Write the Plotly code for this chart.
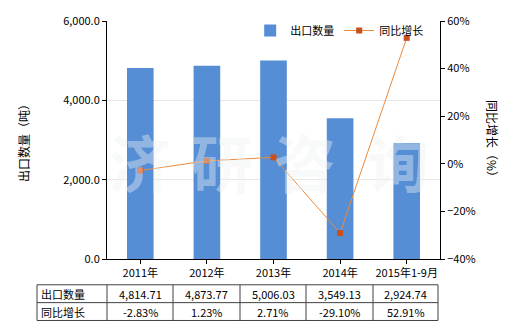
import plotly.graph_objects as go

categories = ["2011年", "2012年", "2013年", "2014年", "2015年1-9月"]
export_qty = [4814.71, 4873.77, 5006.03, 3549.13, 2924.74]
yoy_growth = [-2.83, 1.23, 2.71, -29.10, 52.91]
qty_labels = ["4,814.71", "4,873.77", "5,006.03", "3,549.13", "2,924.74"]
growth_labels = ["-2.83%", "1.23%", "2.71%", "-29.10%", "52.91%"]
row_names = ["出口数量", "同比增长"]
watermark_chars = ["济", "研", "咨", "询"]

W, H = 520, 330
L, R, T, B = 107, 80, 19, 71
pw, ph = W - L - R, H - T - B
FONT = "Noto Sans CJK SC"

def px(x):
    return (x - L) / pw

def py(y):
    return (H - B - y) / ph

fig = go.Figure()
fig.add_trace(go.Bar(x=categories, y=export_qty, name="出口数量",
                     marker=dict(color="#558ED5", line=dict(width=0)),
                     width=0.4, yaxis="y"))
fig.add_trace(go.Scatter(x=categories, y=yoy_growth, name="同比增长",
                         mode="lines+markers",
                         line=dict(color="#EE8A3C", width=1),
                         marker=dict(symbol="square", size=6, color="#C8501A"),
                         yaxis="y2"))

shapes = []
xs = [37, 107, 173, 240, 306, 373, 438]
ys = [285, 303, 321]
for yv in ys:
    shapes.append(dict(type="line", xref="paper", yref="paper",
                       x0=px(xs[0]), x1=px(xs[-1]), y0=py(yv), y1=py(yv),
                       line=dict(color="#404040", width=1)))
for xv in xs:
    shapes.append(dict(type="line", xref="paper", yref="paper",
                       x0=px(xv), x1=px(xv), y0=py(ys[0]), y1=py(ys[-1]),
                       line=dict(color="#404040", width=1)))

annotations = []
rows = [qty_labels, growth_labels]
for ri, (name, vals) in enumerate(zip(row_names, rows)):
    yc = (ys[ri] + ys[ri + 1]) / 2
    annotations.append(dict(xref="paper", yref="paper", x=px(xs[0] + 2), y=py(yc),
                            text=name, showarrow=False, xanchor="left", yanchor="middle",
                            font=dict(family=FONT, size=11, color="#000")))
    for ci, v in enumerate(vals):
        xc = (xs[ci + 1] + xs[ci + 2]) / 2
        annotations.append(dict(xref="paper", yref="paper", x=px(xc), y=py(yc),
                                text=v, showarrow=False, xanchor="center", yanchor="middle",
                                font=dict(family=FONT, size=11, color="#000")))

# watermark
for ch, xc in zip(watermark_chars, [140, 222, 305, 398]):
    annotations.append(dict(xref="paper", yref="paper", x=px(xc), y=py(160), text="<b>" + ch + "</b>",
                            showarrow=False, xanchor="center", yanchor="middle",
                            font=dict(family=FONT, size=62, color="rgba(238,242,242,0.40)")))

# right axis title (reads top to bottom)
annotations.append(dict(xref="paper", yref="paper", x=px(492), y=py(140), text="同比增长（%）",
                        textangle=90, showarrow=False, xanchor="center", yanchor="middle",
                        font=dict(family=FONT, size=12, color="#000")))

fig.update_layout(
    width=W, height=H,
    margin=dict(l=L, r=R, t=T, b=B),
    paper_bgcolor="white", plot_bgcolor="white",
    font=dict(family=FONT, size=11, color="#000"),
    showlegend=True,
    legend=dict(orientation="h", x=0.43, y=0.96, xanchor="left", yanchor="middle",
                bgcolor="rgba(0,0,0,0)", font=dict(size=11), itemwidth=30,
                tracegroupgap=0),
    xaxis=dict(showline=True, linecolor="#000", linewidth=1, ticks="outside",
               ticklen=4, tickcolor="#000", showgrid=False,
               tickfont=dict(size=11)),
    yaxis=dict(range=[0, 6000], dtick=2000, tickformat=",.1f", showline=True,
               linecolor="#000", linewidth=1, ticks="outside", ticklen=4,
               tickcolor="#000", showgrid=True, gridcolor="#E8E8E0", zeroline=False,
               title=dict(text="出口数量（吨）", font=dict(size=12), standoff=30)),
    yaxis2=dict(range=[-40, 60], dtick=20, ticksuffix="%", overlaying="y", side="right",
                showline=True, linecolor="#000", linewidth=1, ticks="outside", ticklen=4,
                tickcolor="#000", showgrid=False, zeroline=False),
    shapes=shapes,
    annotations=annotations,
)

fig.write_html("out.html")
